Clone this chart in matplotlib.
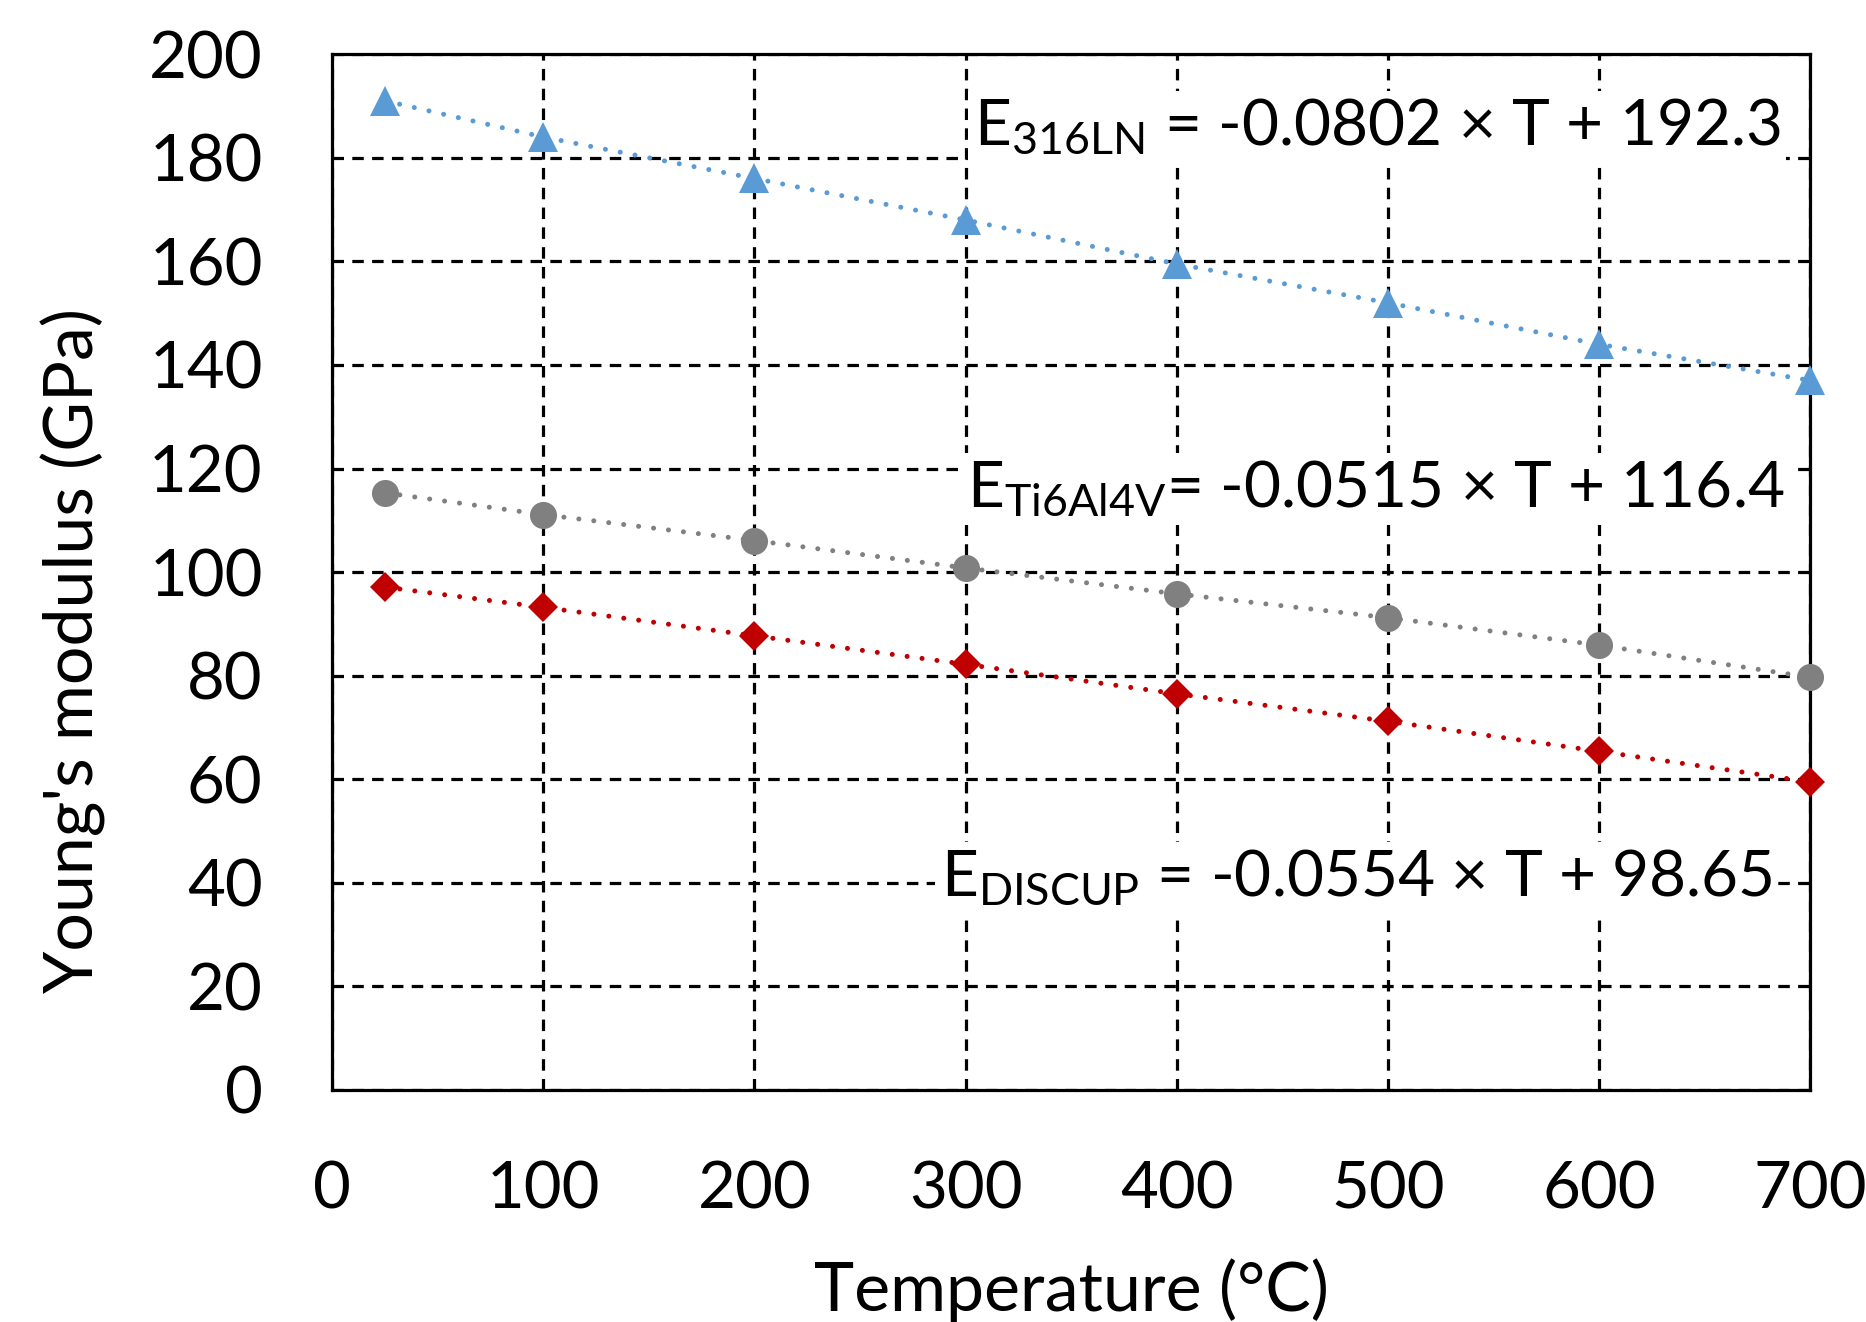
import matplotlib
matplotlib.use("Agg")
import matplotlib.pyplot as plt

plt.rcParams['font.family'] = ['Lato', 'DejaVu Sans']
plt.rcParams['mathtext.fontset'] = 'custom'
plt.rcParams['mathtext.rm'] = 'Lato'
plt.rcParams['mathtext.it'] = 'Lato'

temperature = [25, 100, 200, 300, 400, 500, 600, 700]
e_316ln = [191, 184, 176, 168, 159.5, 152, 144, 137]
e_ti6al4v = [115.3, 111.1, 106.1, 100.8, 95.8, 91.2, 85.9, 79.7]
e_discup = [97.1, 93.2, 87.7, 82.2, 76.5, 71.2, 65.4, 59.5]

x_ticks = [0, 100, 200, 300, 400, 500, 600, 700]
y_ticks = [0, 20, 40, 60, 80, 100, 120, 140, 160, 180, 200]

eq_316ln = r"E$_{\mathregular{316LN}}$ = -0.0802 × T + 192.3"
eq_ti = r"E$_{\mathregular{Ti6Al4V}}$= -0.0515 × T + 116.4"
eq_discup = r"E$_{\mathregular{DISCUP}}$ = -0.0554 × T + 98.65"

fig = plt.figure(figsize=(18.66, 13.22), dpi=100)
ax = fig.add_axes([0.178, 0.1755, 0.792, 0.7835])

series = [
    (e_316ln, '#5B9BD5', '^', 21),
    (e_ti6al4v, '#808080', 'o', 19.5),
    (e_discup, '#C00000', 'D', 15.5),
]
for vals, col, mk, ms in series:
    ax.plot(temperature, vals, color=col, linestyle=(0, (0.01, 3.0)),
            linewidth=3.6, dash_capstyle='round', zorder=3)
    ax.plot(temperature, vals, color=col, linestyle='none', marker=mk,
            markersize=ms, markeredgewidth=0, zorder=4, clip_on=False)

ax.set_xlim(0, 700)
ax.set_ylim(0, 200)
ax.set_xticks(x_ticks)
ax.set_yticks(y_ticks)
ax.tick_params(axis='both', length=0, labelsize=47)
ax.tick_params(axis='x', pad=51)
ax.tick_params(axis='y', pad=50)
ax.grid(True, color='black', linestyle=(0, (3.6, 2.6)), linewidth=2.3, zorder=1)
ax.set_axisbelow(True)
for s in ax.spines.values():
    s.set_linewidth(2.3)
    s.set_color('black')

ax.set_xlabel("Temperature (°C)", fontsize=49, labelpad=28)
ax.set_ylabel("Young's modulus (GPa)", fontsize=49)
ax.yaxis.set_label_coords(-0.153, 0.424)

bbox = dict(facecolor='white', edgecolor='none', pad=4)
ax.text(686, 186, eq_316ln, fontsize=46, ha='right', va='center', bbox=bbox, zorder=2)
ax.text(688, 116, eq_ti, fontsize=46, ha='right', va='center', bbox=bbox, zorder=2)
ax.text(682, 41, eq_discup, fontsize=46, ha='right', va='center', bbox=bbox, zorder=2)

fig.savefig("out.png", dpi=100)
